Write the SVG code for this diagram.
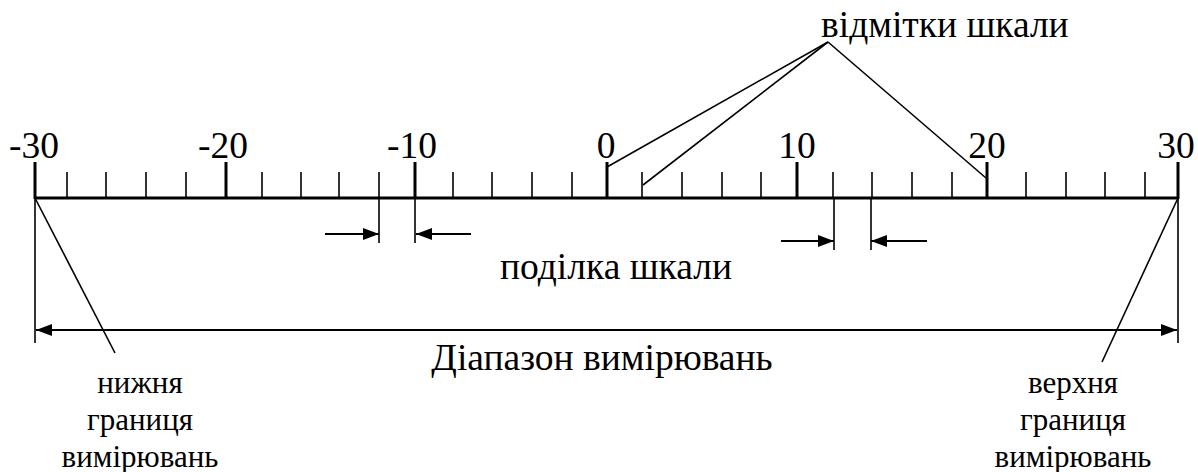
<svg xmlns="http://www.w3.org/2000/svg" width="1198" height="472" viewBox="0 0 1198 472">
<style>
.ln{stroke:#000;fill:none}
.thick{stroke-width:3}
.minor{stroke-width:1.6}
.dim{stroke-width:2.2}
.big{font-family:'Liberation Serif',serif;font-size:37.5px}
.small{font-family:'Liberation Serif',serif;font-size:31px}
</style>
<defs>
<marker id="ah" markerUnits="userSpaceOnUse" markerWidth="18" markerHeight="14" refX="16" refY="7" orient="auto-start-reverse">
<path d="M0,1 L16,7 L0,13 Z" fill="#000"/>
</marker>
</defs>
<rect width="1198" height="472" fill="#fff"/>
<g id="scale">
<line class="ln thick" x1="35" y1="198" x2="1179" y2="198"/>
<g class="ln thick">
<line x1="35" y1="162" x2="35" y2="199"/>
<line x1="226" y1="162" x2="226" y2="199"/>
<line x1="415" y1="162" x2="415" y2="199"/>
<line x1="607" y1="162" x2="607" y2="199"/>
<line x1="797" y1="162" x2="797" y2="199"/>
<line x1="987" y1="162" x2="987" y2="199"/>
<line x1="1178" y1="162" x2="1178" y2="199"/>
</g>
<g class="ln minor">
<line x1="67" y1="172" x2="67" y2="198"/>
<line x1="106" y1="172" x2="106" y2="198"/>
<line x1="146" y1="172" x2="146" y2="198"/>
<line x1="186" y1="172" x2="186" y2="198"/>
<line x1="262" y1="172" x2="262" y2="198"/>
<line x1="301" y1="172" x2="301" y2="198"/>
<line x1="339" y1="172" x2="339" y2="198"/>
<line x1="379" y1="172" x2="379" y2="198"/>
<line x1="453" y1="172" x2="453" y2="198"/>
<line x1="492" y1="172" x2="492" y2="198"/>
<line x1="532" y1="172" x2="532" y2="198"/>
<line x1="572" y1="172" x2="572" y2="198"/>
<line x1="642" y1="172" x2="642" y2="198"/>
<line x1="682" y1="172" x2="682" y2="198"/>
<line x1="722" y1="172" x2="722" y2="198"/>
<line x1="761" y1="172" x2="761" y2="198"/>
<line x1="833" y1="172" x2="833" y2="198"/>
<line x1="872" y1="172" x2="872" y2="198"/>
<line x1="912" y1="172" x2="912" y2="198"/>
<line x1="952" y1="172" x2="952" y2="198"/>
<line x1="1026" y1="172" x2="1026" y2="198"/>
<line x1="1066" y1="172" x2="1066" y2="198"/>
<line x1="1105" y1="172" x2="1105" y2="198"/>
<line x1="1145" y1="172" x2="1145" y2="198"/>
</g>
<g class="big" font-family="Liberation Serif" text-anchor="middle">
<text x="34" y="158">-30</text>
<text x="223" y="158">-20</text>
<text x="412" y="158">-10</text>
<text x="606" y="158">0</text>
<text x="797" y="158">10</text>
<text x="987" y="158">20</text>
<text x="1176" y="158">30</text>
</g>
</g>
<g id="marks-label" class="big" font-family="Liberation Serif">
<text x="821" y="37">відмітки шкали</text>
</g>
<g id="division-label" class="big" font-family="Liberation Serif">
<text x="616" y="279" text-anchor="middle">поділка шкали</text>
</g>
<g id="range-label" class="big" font-family="Liberation Serif">
<text x="602" y="370" text-anchor="middle">Діапазон вимірювань</text>
</g>
<g id="lower-label" class="small" font-family="Liberation Serif" text-anchor="middle">
<text x="140" y="393">нижня</text>
<text x="140" y="430">границя</text>
<text x="140" y="467">вимірювань</text>
</g>
<g id="upper-label" class="small" font-family="Liberation Serif" text-anchor="middle">
<text x="1073" y="393">верхня</text>
<text x="1073" y="430">границя</text>
<text x="1073" y="467">вимірювань</text>
</g>
<g id="connectors" class="ln minor">
<line x1="828" y1="42" x2="607" y2="167"/>
<line x1="828" y1="42" x2="643" y2="185"/>
<line x1="828" y1="42" x2="986" y2="178"/>
<line x1="379" y1="198" x2="379" y2="243"/>
<line x1="415" y1="198" x2="415" y2="243"/>
<line x1="834" y1="198" x2="834" y2="250"/>
<line x1="871" y1="198" x2="871" y2="250"/>
<line class="dim" x1="325" y1="234" x2="379" y2="234" marker-end="url(#ah)"/>
<line class="dim" x1="471" y1="234" x2="416" y2="234" marker-end="url(#ah)"/>
<line class="dim" x1="781" y1="241" x2="834" y2="241" marker-end="url(#ah)"/>
<line class="dim" x1="927" y1="241" x2="871" y2="241" marker-end="url(#ah)"/>
<line x1="35" y1="198" x2="35" y2="343"/>
<line x1="1178" y1="198" x2="1178" y2="343"/>
<line class="dim" x1="36" y1="330" x2="1177" y2="330" marker-start="url(#ah)" marker-end="url(#ah)"/>
<line x1="35" y1="198" x2="115" y2="353"/>
<line x1="1178" y1="198" x2="1102" y2="362"/>
</g>
</svg>
